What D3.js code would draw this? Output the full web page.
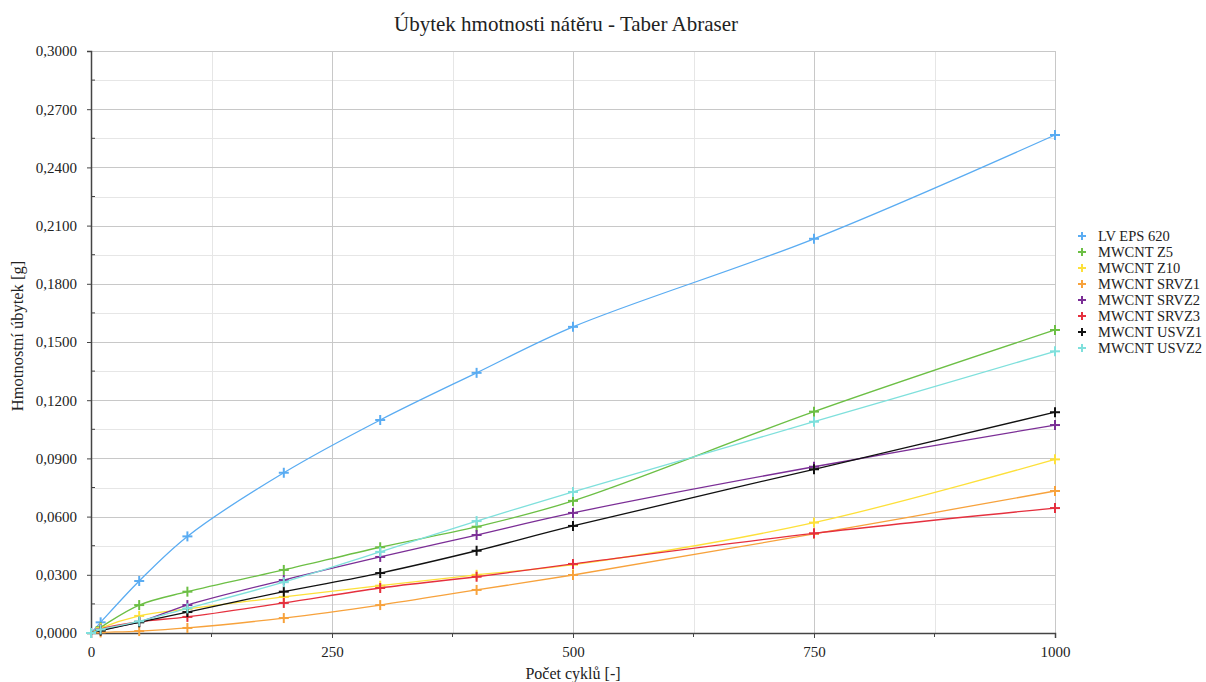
<!DOCTYPE html>
<html>
<head>
<meta charset="utf-8">
<script src="https://cdn.jsdelivr.net/npm/d3@7"></script>
<style>
body { margin: 0; background: #fff; }
svg { display: block; }
</style>
</head>
<body>
<svg id="chart" width="1206" height="682"></svg>
<script>
const cycles = [0, 10, 50, 100, 200, 300, 400, 500, 750, 1000];
const seriesNames = ["LV EPS 620", "MWCNT Z5", "MWCNT Z10", "MWCNT SRVZ1", "MWCNT SRVZ2", "MWCNT SRVZ3", "MWCNT USVZ1", "MWCNT USVZ2"];
const seriesColors = ["#5aacf2", "#6cbf45", "#fde03a", "#f7a23c", "#7b2e96", "#e5303e", "#111111", "#7fe0dc"];
const lvEps620   = [0, 0.0055, 0.0268, 0.0498, 0.0826, 0.1098, 0.1341, 0.1578, 0.2032, 0.2567];
const mwcntZ5    = [0, 0.0030, 0.0144, 0.0213, 0.0325, 0.0442, 0.0548, 0.0681, 0.1141, 0.1562];
const mwcntZ10   = [0, 0.0025, 0.0088, 0.0124, 0.0186, 0.0244, 0.0300, 0.0352, 0.0569, 0.0895];
const mwcntSRVZ1 = [0, 0.0003, 0.0010, 0.0026, 0.0077, 0.0144, 0.0222, 0.0299, 0.0511, 0.0732];
const mwcntSRVZ2 = [0, 0.0015, 0.0057, 0.0144, 0.0273, 0.0392, 0.0505, 0.0619, 0.0857, 0.1072];
const mwcntSRVZ3 = [0, 0.0020, 0.0058, 0.0083, 0.0155, 0.0232, 0.0290, 0.0356, 0.0514, 0.0644];
const mwcntUSVZ1 = [0, 0.0012, 0.0055, 0.0108, 0.0213, 0.0309, 0.0424, 0.0552, 0.0844, 0.1138];
const mwcntUSVZ2 = [0, 0.0018, 0.0060, 0.0127, 0.0262, 0.0418, 0.0577, 0.0727, 0.1089, 0.1452];
const seriesValues = [lvEps620, mwcntZ5, mwcntZ10, mwcntSRVZ1, mwcntSRVZ2, mwcntSRVZ3, mwcntUSVZ1, mwcntUSVZ2];
const xTickValues = [0, 250, 500, 750, 1000];
const xMinorTicks = [125, 375, 625, 875];
const yTickValues = [0, 0.03, 0.06, 0.09, 0.12, 0.15, 0.18, 0.21, 0.24, 0.27, 0.30];
const yMinorTicks = [0.015, 0.045, 0.075, 0.105, 0.135, 0.165, 0.195, 0.225, 0.255, 0.285];
const titleText = "Úbytek hmotnosti nátěru - Taber Abraser";
const xLabel = "Počet cyklů [-]";
const yLabel = "Hmotnostní úbytek [g]";

(function () {
const svg = d3.select("#chart");
const pLeft = 91, pRight = 1055, pTop = 51, pBottom = 633;
const x = d3.scaleLinear().domain([0, 1000]).range([pLeft, pRight]);
const y = d3.scaleLinear().domain([0, 0.3]).range([pBottom, pTop]);
const fmtY = v => d3.format(".4f")(v).replace(".", ",");
const FONT = "'Liberation Serif', serif";

// grid
const grid = svg.append("g");
grid.selectAll(".ym").data(yMinorTicks).enter().append("line")
  .attr("x1", pLeft).attr("x2", pRight).attr("y1", d => Math.round(y(d)) + 0.5).attr("y2", d => Math.round(y(d)) + 0.5)
  .attr("stroke", "#e6e6e6").attr("stroke-width", 1);
grid.selectAll(".xm").data(xMinorTicks).enter().append("line")
  .attr("y1", pTop).attr("y2", pBottom).attr("x1", d => Math.round(x(d)) + 0.5).attr("x2", d => Math.round(x(d)) + 0.5)
  .attr("stroke", "#e6e6e6").attr("stroke-width", 1);
grid.selectAll(".yM").data(yTickValues.slice(1)).enter().append("line")
  .attr("x1", pLeft).attr("x2", pRight).attr("y1", d => Math.round(y(d)) + 0.5).attr("y2", d => Math.round(y(d)) + 0.5)
  .attr("stroke", "#c8c8c8").attr("stroke-width", 1);
grid.selectAll(".xM").data(xTickValues.slice(1)).enter().append("line")
  .attr("y1", pTop).attr("y2", pBottom).attr("x1", d => Math.round(x(d)) + 0.5).attr("x2", d => Math.round(x(d)) + 0.5)
  .attr("stroke", "#c8c8c8").attr("stroke-width", 1);

// axes
const xAxis = d3.axisBottom(x).tickValues(xTickValues).tickSize(5).tickPadding(8).tickFormat(d3.format("d"));
const gx = svg.append("g").attr("transform", `translate(0,${pBottom})`).call(xAxis);
gx.select(".domain").attr("stroke", "#444").attr("stroke-width", 1.5);
gx.selectAll(".tick line").attr("stroke", "#444");
gx.selectAll("text").style("font-family", FONT).style("font-size", "15px").attr("fill", "#222");
svg.append("g").selectAll("line").data(xMinorTicks).enter().append("line")
  .attr("x1", d => x(d)).attr("x2", d => x(d)).attr("y1", pBottom).attr("y2", pBottom + 4).attr("stroke", "#444");

const yAxis = d3.axisLeft(y).tickValues(yTickValues).tickSize(4).tickPadding(10).tickFormat(fmtY);
const gy = svg.append("g").attr("transform", `translate(${pLeft},0)`).call(yAxis);
gy.select(".domain").attr("stroke", "#444").attr("stroke-width", 1.5);
gy.selectAll(".tick line").attr("stroke", "#444");
gy.selectAll("text").style("font-family", FONT).style("font-size", "15px").attr("fill", "#222");
svg.append("g").selectAll("line").data(yMinorTicks).enter().append("line")
  .attr("x1", pLeft).attr("x2", pLeft + 4).attr("y1", d => y(d)).attr("y2", d => y(d)).attr("stroke", "#444");

// series
const line = d3.line().x(d => x(d[0])).y(d => y(d[1])).curve(d3.curveCatmullRom.alpha(0.5));
const cross = (g, color, s) => {
  g.append("line").attr("x1", -s).attr("x2", s).attr("y1", 0).attr("y2", 0).attr("stroke", color).attr("stroke-width", 2);
  g.append("line").attr("x1", 0).attr("x2", 0).attr("y1", -s).attr("y2", s).attr("stroke", color).attr("stroke-width", 2);
};
seriesNames.forEach((name, i) => {
  const pts = cycles.map((c, j) => [c, seriesValues[i][j]]);
  svg.append("path").datum(pts).attr("d", line).attr("fill", "none")
    .attr("stroke", seriesColors[i]).attr("stroke-width", 1.3);
  const mg = svg.append("g");
  pts.forEach(p => {
    const g = mg.append("g").attr("transform", `translate(${x(p[0])},${y(p[1])})`);
    cross(g, seriesColors[i], 5);
  });
});

// legend
const lg = svg.append("g");
seriesNames.forEach((name, i) => {
  const yy = 236 + i * 16;
  const g = lg.append("g").attr("transform", `translate(1082,${yy})`);
  cross(g, seriesColors[i], 4);
  lg.append("text").attr("x", 1098).attr("y", yy).attr("dy", "0.35em")
    .style("font-family", FONT).style("font-size", "14.5px").attr("fill", "#222").text(name);
});

// titles
svg.append("text").attr("x", 566).attr("y", 31).attr("text-anchor", "middle")
  .style("font-family", FONT).style("font-size", "21px").attr("fill", "#222").text(titleText);
svg.append("text").attr("x", 573).attr("y", 679).attr("text-anchor", "middle")
  .style("font-family", FONT).style("font-size", "16px").attr("fill", "#222").text(xLabel);
svg.append("text").attr("transform", `translate(23,336) rotate(-90)`).attr("text-anchor", "middle")
  .style("font-family", FONT).style("font-size", "16.5px").attr("fill", "#222").text(yLabel);
})();
</script>
</body>
</html>
